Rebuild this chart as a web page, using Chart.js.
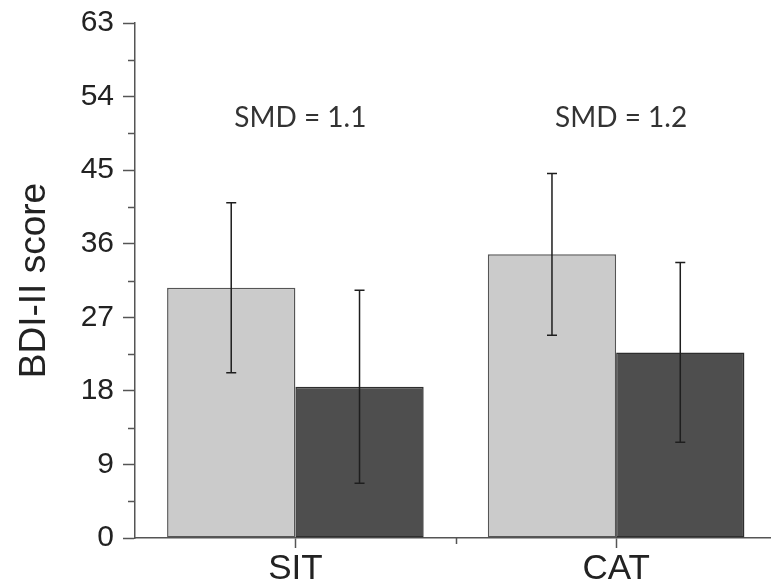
<!DOCTYPE html>
<html>
<head>
<meta charset="utf-8">
<script src="https://cdn.jsdelivr.net/npm/chart.js@4/dist/chart.umd.min.js"></script>
<style>
  html, body { margin: 0; padding: 0; background: #fff; overflow: hidden; width: 771px; height: 587px; }
  #wrap { position: absolute; left: 0; top: 0; width: 800px; height: 587px; }
</style>
</head>
<body>
<div id="wrap"><canvas id="c"></canvas></div>
<script>
// BDI-II scores before and after treatment, mean and SD per group
const groups = ['SIT', 'CAT'];
const preMeans = [30.6, 34.7];
const preSD = [10.4, 9.9];
const postMeans = [18.5, 22.7];
const postSD = [11.8, 11.0];
const smdLabels = ['SMD = 1.1', 'SMD = 1.2'];
const yMax = 63;
const yStep = 9;

const sdByDataset = [preSD, postSD];
const axisColor = '#555';
const textColor = '#222';
const sansFont = '"Liberation Sans", Arial, sans-serif';

// error bars (mean ± SD) drawn on top of each bar
const errorBars = {
  id: 'errorBars',
  afterDatasetsDraw(chart) {
    const ctx = chart.ctx;
    const y = chart.scales.y;
    ctx.save();
    ctx.strokeStyle = '#1e1e1e';
    ctx.lineWidth = 1.5;
    chart.data.datasets.forEach((ds, i) => {
      const meta = chart.getDatasetMeta(i);
      meta.data.forEach((bar, j) => {
        const m = ds.data[j];
        const sd = sdByDataset[i][j];
        const yt = y.getPixelForValue(m + sd);
        const yb = y.getPixelForValue(m - sd);
        const cap = 5;
        ctx.beginPath();
        ctx.moveTo(bar.x, yt); ctx.lineTo(bar.x, yb);
        ctx.moveTo(bar.x - cap, yt); ctx.lineTo(bar.x + cap, yt);
        ctx.moveTo(bar.x - cap, yb); ctx.lineTo(bar.x + cap, yb);
        ctx.stroke();
      });
    });
    ctx.restore();
  }
};

// minor ticks half-way between the major ones, plus the SMD annotations
const extras = {
  id: 'extras',
  afterDraw(chart) {
    const ctx = chart.ctx;
    const x = chart.scales.x;
    const y = chart.scales.y;
    const area = chart.chartArea;
    ctx.save();
    ctx.strokeStyle = axisColor;
    ctx.lineWidth = 1.5;
    ctx.beginPath();
    for (let v = yStep / 2; v < yMax; v += yStep) {
      const py = Math.round(y.getPixelForValue(v)) + 0.5;
      ctx.moveTo(area.left - 7, py);
      ctx.lineTo(area.left, py);
    }
    for (let k = 0; k < groups.length; k++) {
      const px = Math.round(x.getPixelForValue(k + 0.5)) + 0.5;
      ctx.moveTo(px, area.bottom);
      ctx.lineTo(px, area.bottom + 6);
    }
    ctx.stroke();

    ctx.fillStyle = '#333';
    ctx.font = '28px Lato, "Open Sans", sans-serif';
    ctx.textAlign = 'center';
    ctx.textBaseline = 'alphabetic';
    smdLabels.forEach((t, k) => {
      ctx.fillText(t, x.getPixelForValue(k) + 5, y.getPixelForValue(50.3));
    });
    ctx.restore();
  }
};

new Chart(document.getElementById('c'), {
  type: 'bar',
  data: {
    labels: groups,
    datasets: [
      {
        label: 'Pre',
        data: preMeans,
        backgroundColor: '#cbcbcb',
        borderColor: '#555',
        borderWidth: 1.5,
        borderSkipped: false
      },
      {
        label: 'Post',
        data: postMeans,
        backgroundColor: '#4e4e4e',
        borderColor: '#2e2e2e',
        borderWidth: 1.5,
        borderSkipped: false
      }
    ]
  },
  options: {
    responsive: true,
    maintainAspectRatio: false,
    animation: false,
    layout: { padding: { left: 0, top: 23, right: 23.5, bottom: 0 } },
    datasets: { bar: { categoryPercentage: 0.8, barPercentage: 1.0 } },
    plugins: { legend: { display: false }, tooltip: { enabled: false } },
    scales: {
      x: {
        grid: {
          offset: false,
          drawOnChartArea: false,
          drawTicks: true,
          tickLength: 10,
          tickColor: axisColor,
          tickWidth: 1.5
        },
        border: { color: axisColor, width: 1.5 },
        ticks: {
          color: textColor,
          font: { family: sansFont, size: 35 },
          padding: 0,
          maxRotation: 0
        },
        afterFit(s) { s.height = 49; }
      },
      y: {
        min: 0,
        max: yMax,
        grid: {
          drawOnChartArea: false,
          drawTicks: true,
          tickLength: 12,
          tickColor: axisColor,
          tickWidth: 1.5
        },
        border: { color: axisColor, width: 1.5 },
        ticks: {
          stepSize: yStep,
          color: textColor,
          font: { family: sansFont, size: 30, lineHeight: 0.9 },
          padding: 9
        },
        title: {
          display: true,
          text: 'BDI-II score',
          color: textColor,
          font: { family: sansFont, size: 37 },
          padding: { top: 13, bottom: 0 }
        },
        afterFit(s) { s.width = 135; }
      }
    }
  },
  plugins: [errorBars, extras]
});
</script>
</body>
</html>
